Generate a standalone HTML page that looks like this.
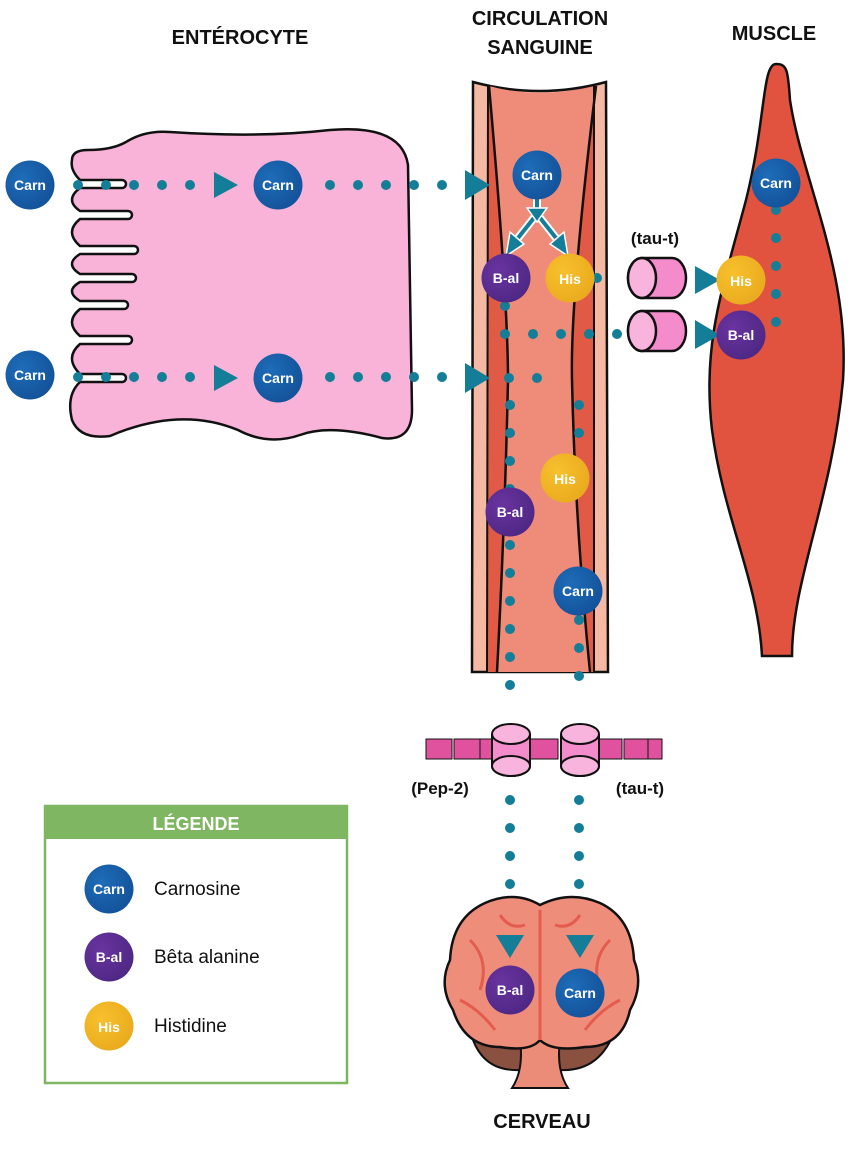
<!DOCTYPE html>
<html><head><meta charset="utf-8"><style>
html,body{margin:0;padding:0;background:#fff}
svg{display:block}
text{font-family:"Liberation Sans",sans-serif}
.t{font-weight:bold;font-size:20px;fill:#111;text-anchor:middle}
.m{font-weight:bold;fill:#fff;text-anchor:middle;font-size:14px}
.d{stroke:#147d97;stroke-width:10;stroke-linecap:round;stroke-dasharray:0 28;fill:none}
.lb{font-weight:bold;font-size:17px;fill:#111;text-anchor:middle}
.lg{font-size:19px;fill:#111}
</style></head><body>
<svg width="852" height="1168" viewBox="0 0 852 1168" xmlns="http://www.w3.org/2000/svg">
<defs>
<radialGradient id="gc" cx="0.35" cy="0.35" r="0.8"><stop offset="0" stop-color="#1e6cb8"/><stop offset="1" stop-color="#124f96"/></radialGradient>
<radialGradient id="gb" cx="0.35" cy="0.35" r="0.8"><stop offset="0" stop-color="#6a33a0"/><stop offset="1" stop-color="#4a2680"/></radialGradient>
<radialGradient id="gh" cx="0.35" cy="0.35" r="0.8"><stop offset="0" stop-color="#f7c02d"/><stop offset="1" stop-color="#e8a81c"/></radialGradient>
<g id="carn"><circle r="24.5" fill="url(#gc)"/><text class="m" y="5">Carn</text></g>
<g id="bal"><circle r="24.5" fill="url(#gb)"/><text class="m" y="5">B-al</text></g>
<g id="his"><circle r="24.5" fill="url(#gh)"/><text class="m" y="6" font-size="16">His</text></g>
<g id="cyl"><path d="M14,0 L44,0 A14 20 0 0 1 44,40 L14,40 A14 20 0 0 1 14,0 Z" fill="#f48bcb" stroke="#111" stroke-width="2.5"/><ellipse cx="14" cy="20" rx="14" ry="20" fill="#f8b4dc" stroke="#111" stroke-width="2.5"/></g>
<g id="vcyl"><path d="M0,12 L0,44 A19 10 0 0 0 38,44 L38,12" fill="#f48bcb" stroke="#111" stroke-width="2"/><ellipse cx="19" cy="12" rx="19" ry="10" fill="#f8b4dc" stroke="#111" stroke-width="2"/><path d="M0,44 A19 10 0 0 0 38,44 A19 10 0 0 0 0,44" fill="#f8b4dc" stroke="#111" stroke-width="2"/></g>
</defs>

<!-- titles -->
<text class="t" x="240" y="44">ENTÉROCYTE</text>
<text class="t" x="540" y="25">CIRCULATION</text>
<text class="t" x="540" y="54">SANGUINE</text>
<text class="t" x="774" y="40">MUSCLE</text>
<text class="t" x="542" y="1128">CERVEAU</text>

<!-- enterocyte -->
<path d="M110,436 Q80,440 72,420 Q66,395 80,382 L122,382 A4 4 0 0 0 122,374 L80,374 Q64,358 80,344 L128,344 A4 4 0 0 0 128,336 L80,336 Q64,322 80,309 L124,309 A4 4 0 0 0 124,301 L80,301 Q64,291 80,282 L132,282 A4 4 0 0 0 132,274 L80,274 Q64,264 80,254 L134,254 A4 4 0 0 0 134,246 L80,246 Q64,232 80,219 L128,219 A4 4 0 0 0 128,211 L80,211 Q64,200 80,188 L122,188 A4 4 0 0 0 122,180 L80,180 Q70,170 72,160 Q72,150 88,150 Q112,150 126,142 Q145,130 170,132 Q260,138 330,130 Q402,124 408,165 L412,410 Q412,442 382,438 Q330,424 300,435 Q268,446 238,430 Q180,406 110,436 Z" fill="#f9b3d8" stroke="#111" stroke-width="2.5"/>

<!-- vessel -->
<path d="M473,82 Q540,100 606,82 L608,672 L472,672 Z" fill="#f5b9a3" stroke="#111" stroke-width="2.5"/>
<path d="M488,86 Q540,100 594,86 L594,672 L487,672 Z" fill="#e15a46"/>
<path d="M489,86 Q540,100 596,86 Q570,300 572,380 Q575,520 590,672 L497,672 Q505,520 508,380 Q508,300 489,86 Z" fill="#ef8b79"/>
<path d="M489,86 Q508,300 508,380 Q505,520 497,672 M596,86 Q570,300 572,380 Q575,520 590,672" fill="none" stroke="#111" stroke-width="2.5"/>
<line x1="488" y1="86" x2="487" y2="672" stroke="#111" stroke-width="2"/>
<line x1="594" y1="86" x2="594" y2="672" stroke="#111" stroke-width="2"/>

<!-- muscle -->
<path d="M776,64 C762,64 766,120 746,200 C722,290 702,345 712,430 C724,520 758,580 762,656 L792,656 C792,580 832,500 843,380 C850,270 802,180 790,100 C788,70 787,64 776,64 Z" fill="#e2533f" stroke="#111" stroke-width="2.5"/>

<!-- brain -->
<path d="M470,1030 Q480,1072 520,1070 L560,1070 Q600,1072 615,1030 Z" fill="#8a5040" stroke="#111" stroke-width="2"/>
<path d="M520,1040 L560,1040 Q556,1070 568,1088 L512,1088 Q524,1070 520,1040 Z" fill="#ea8c78" stroke="#111" stroke-width="2"/>
<path d="M540,905 Q515,890 485,903 Q452,918 450,960 Q438,985 453,1010 Q465,1047 500,1047 Q530,1052 540,1040 Q552,1052 585,1047 Q622,1047 630,1010 Q644,985 634,960 Q632,918 600,903 Q570,890 540,905 Z" fill="#ef8d7b" stroke="#111" stroke-width="2.5"/>
<path d="M540,910 L540,1040 M470,940 Q490,960 480,990 M610,940 Q590,960 600,990 M500,915 Q510,930 525,925 M580,915 Q570,930 555,925 M460,1000 Q480,1010 495,1030 M620,1000 Q600,1010 585,1030" stroke="#e35c4e" stroke-width="3" fill="none"/>

<!-- dotted connectors -->
<path class="d" d="M78,185 L215,185 M330,185 L458,185 M78,377 L215,377 M330,377 L458,377"/>
<polygon points="214,172 238,185 214,198" fill="#147d97"/>
<polygon points="214,365 238,378 214,391" fill="#147d97"/>
<polygon points="465,170 490,185 465,200" fill="#147d97"/>
<polygon points="465,363 490,378 465,393" fill="#147d97"/>
<path class="d" d="M505,306 L505,334 L625,334 M597,278 L625,278"/>
<polygon points="695,266 720,280 695,294" fill="#147d97"/>
<polygon points="695,320 720,335 695,349" fill="#147d97"/>
<path class="d" d="M776,210 L776,336 M509,378 L565,378"/>
<path class="d" d="M510,405 L510,490 M510,545 L510,690 M510,800 L510,912 M579,405 L579,455 M579,620 L579,690 M579,800 L579,912"/>
<polygon points="496,935 524,935 510,958" fill="#147d97"/>
<polygon points="566,935 594,935 580,958" fill="#147d97"/>

<!-- carn split arrows -->
<path d="M537,199 L537,214 L518,238 M537,214 L556,238" stroke="#fff" stroke-width="8" fill="none"/>
<path d="M537,199 L537,214 L518,238 M537,214 L556,238" stroke="#147d97" stroke-width="4" fill="none"/>
<polygon points="527,208 547,208 537,222" fill="#147d97" stroke="#fff" stroke-width="1.5"/>
<polygon points="506,256 510,232 524,244" fill="#147d97" stroke="#fff" stroke-width="1.5"/>
<polygon points="568,256 564,232 550,244" fill="#147d97" stroke="#fff" stroke-width="1.5"/>

<!-- molecules -->
<use href="#carn" x="30" y="185"/>
<use href="#carn" x="30" y="375"/>
<use href="#carn" x="278" y="185"/>
<use href="#carn" x="278" y="378"/>
<use href="#carn" x="537" y="175"/>
<use href="#bal" x="506" y="278"/>
<use href="#his" x="570" y="278"/>
<use href="#his" x="565" y="478"/>
<use href="#bal" x="510" y="512"/>
<use href="#carn" x="578" y="591"/>
<use href="#carn" x="776" y="183"/>
<use href="#his" x="741" y="280"/>
<use href="#bal" x="741" y="335"/>
<use href="#bal" x="510" y="990"/>
<use href="#carn" x="580" y="993"/>

<!-- transporters -->
<text class="lb" x="655" y="244">(tau-t)</text>
<use href="#cyl" x="628" y="258"/>
<use href="#cyl" x="628" y="311"/>

<!-- membrane -->
<g fill="#e0519e" stroke="#111" stroke-width="1">
<rect x="426" y="739" width="26" height="20"/><rect x="454" y="739" width="26" height="20"/><rect x="480" y="739" width="14" height="20"/>
<rect x="530" y="739" width="28" height="20"/>
<rect x="598" y="739" width="24" height="20"/><rect x="624" y="739" width="24" height="20"/><rect x="648" y="739" width="14" height="20"/>
</g>
<use href="#vcyl" x="492" y="722"/>
<use href="#vcyl" x="561" y="722"/>
<text class="lb" x="440" y="794">(Pep-2)</text>
<text class="lb" x="640" y="794">(tau-t)</text>

<!-- legend -->
<rect x="45" y="806" width="302" height="277" fill="#fff" stroke="#7fb662" stroke-width="2.5"/>
<rect x="45" y="806" width="302" height="33" fill="#7fb662"/>
<text x="196" y="830" text-anchor="middle" font-weight="bold" font-size="18" fill="#fff">LÉGENDE</text>
<use href="#carn" x="109" y="889"/>
<use href="#bal" x="109" y="957"/>
<use href="#his" x="109" y="1026"/>
<text class="lg" x="154" y="895">Carnosine</text>
<text class="lg" x="154" y="963">Bêta alanine</text>
<text class="lg" x="154" y="1032">Histidine</text>
</svg>
</body></html>
